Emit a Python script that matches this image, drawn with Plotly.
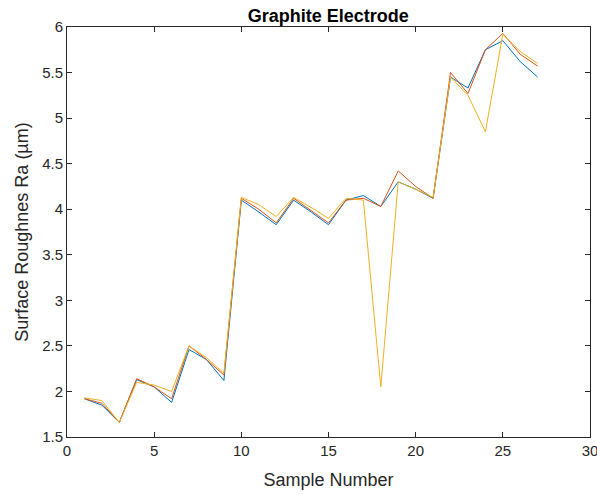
import plotly.graph_objects as go

samples = list(range(1, 28))
series_blue = [1.92, 1.85, 1.66, 2.13, 2.05, 1.88, 2.46, 2.35, 2.12, 4.10, 3.97, 3.83, 4.10, 3.97, 3.83, 4.10, 4.15, 4.03, 4.30, 4.22, 4.12, 5.45, 5.33, 5.75, 5.85, 5.62, 5.45]
series_red = [1.92, 1.87, 1.66, 2.14, 2.05, 1.92, 2.50, 2.35, 2.18, 4.12, 4.00, 3.85, 4.12, 3.98, 3.85, 4.10, 4.12, 4.03, 4.42, 4.25, 4.12, 5.50, 5.27, 5.75, 5.93, 5.70, 5.57]
series_yellow = [1.93, 1.90, 1.66, 2.10, 2.07, 2.00, 2.50, 2.37, 2.20, 4.13, 4.05, 3.92, 4.13, 4.02, 3.90, 4.12, 4.10, 2.05, 4.30, 4.22, 4.13, 5.45, 5.25, 4.85, 5.92, 5.73, 5.60]
x_ticks = [0, 5, 10, 15, 20, 25, 30]
y_ticks = [1.5, 2, 2.5, 3, 3.5, 4, 4.5, 5, 5.5, 6]

fig = go.Figure()
for ys, col in [(series_blue, "#0072BD"), (series_red, "#D95319"), (series_yellow, "#EDB120")]:
    fig.add_trace(go.Scatter(x=samples, y=ys, mode="lines",
                             line=dict(color=col, width=1), showlegend=False))

axis_common = dict(showline=True, linecolor="#262626", linewidth=1, mirror="ticks",
                   ticks="inside", ticklen=5, tickcolor="#262626", showgrid=False,
                   zeroline=False, tickfont=dict(size=15, color="#262626"),
                   ticklabeloverflow="allow", automargin=False)

fig.update_layout(
    width=597, height=495,
    margin=dict(l=67, r=7, t=27, b=58),
    paper_bgcolor="white", plot_bgcolor="white",
    font=dict(family="Liberation Sans, Arial, sans-serif", color="#262626"),
    title=dict(text="<b>Graphite Electrode</b>", x=0.55, xanchor="center",
               y=0.969, yanchor="middle", font=dict(size=18, color="black")),
    xaxis=dict(range=[0, 30], tickvals=x_ticks,
               title=dict(text="Sample Number", font=dict(size=18), standoff=15),
               **axis_common),
    yaxis=dict(range=[1.5, 6], tickvals=y_ticks,
               title=dict(text="Surface Roughnes Ra (µm)", font=dict(size=18), standoff=8),
               **axis_common),
)

fig.write_html("out.html", config={"displayModeBar": False},
               post_script="document.body.style.margin='0';")
